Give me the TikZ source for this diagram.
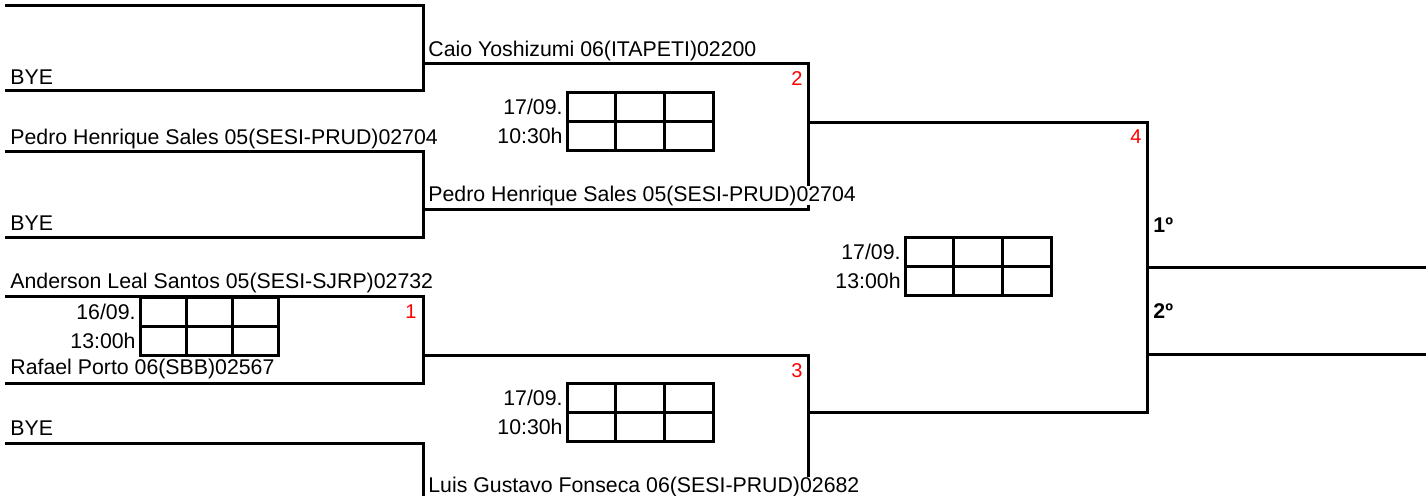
\documentclass[tikz,border=0pt]{standalone}
\usepackage{fontspec}
\setmainfont{Liberation Sans}
\usetikzlibrary{positioning}

\begin{document}
\begin{tikzpicture}[x=0.5pt,y=-0.5pt]
\tikzstyle{player} = [anchor=base west, inner sep=0pt, font=\fontsize{10.65}{12.8}\selectfont]
\tikzstyle{date} = [anchor=east, inner sep=0pt, font=\fontsize{10.65}{12.8}\selectfont]
\tikzstyle{game} = [anchor=base east, inner sep=0pt, text=red, font=\fontsize{10}{12}\selectfont]
\tikzstyle{place} = [anchor=base west, inner sep=0pt, font=\fontsize{10.65}{12.8}\selectfont\bfseries]
\tikzstyle{cell} = [rectangle, draw=black, line width=1.5pt, anchor=north west, outer sep=0pt, inner sep=0pt, minimum height=14.5pt]
\tikzstyle{line} = [line width=1.5pt]

\useasboundingbox (0,0) rectangle (1426,495);
\clip (0,0) rectangle (1426,495);

%coordinates
\coordinate (pA) at (5,5);
\coordinate (qA) at (5,90);
\coordinate (pB) at (5,151);
\coordinate (qB) at (5,237);
\coordinate (p1) at (5,296);
\coordinate (q1) at (5,383);
\coordinate (pD) at (5,443);
\coordinate (mA) at (423,63);
\coordinate (mB) at (423,209);
\coordinate (m1) at (423,355);
\coordinate (mD) at (423,500);
\coordinate (m2) at (808,122);
\coordinate (m3) at (808,412);
\coordinate (m4) at (1147,267);
\coordinate (m4b) at (1147,354);
\coordinate (first) at (1426,267);
\coordinate (second) at (1426,354);

%lines
\draw [line] (pA) -| (mA) |- (qA);
\draw [line] (pB) -| (mB) |- (qB);
\draw [line] (p1) -| (m1) |- (q1);
\draw [line] (pD) -| (mD);
\draw [line] (mA) -| (m2) |- (mB);
\draw [line] (m1) -| (m3) |- (mD);
\draw [line] (m2) -| (m4) |- (m3);
\draw [line] (m4) -- (first);
\draw [line] (m4b) -- (second);

%score boxes
\foreach \b/\bx/\by/\bw in {s1/140/297/46.3, s2/567/92/48.7, s3/567/383/48.7, s4/905/237/48.7}
  \foreach \c in {0,1,2}
    \foreach \r in {0,1}
      \node (\b-\c-\r) [cell, minimum width=\bw*0.5pt] at (\bx+\c*\bw, \by+\r*29) {};

%nodes
\node (nA2) [player] at (10,84) {BYE};
\node (nB1) [player] at (10,144) {Pedro Henrique Sales 05(SESI-PRUD)02704};
\node (nB2) [player] at (10,230) {BYE};
\node (n11) [player] at (10,288) {Anderson Leal Santos 05(SESI-SJRP)02732};
\node (n12) [player] at (10,374) {Rafael Porto 06(SBB)02567};
\node (nD1) [player] at (10,435) {BYE};
\node (wA) [player] at (428,56) {Caio Yoshizumi 06(ITAPETI)02200};
\node (wB) [player, fill=white] at (428,201) {Pedro Henrique Sales 05(SESI-PRUD)02704};
\node (wD) [player, fill=white] at (428,492) {Luis Gustavo Fonseca 06(SESI-PRUD)02682};

\node (g1) [game] at (417,318) {1};
\node (g2) [game] at (803,85) {2};
\node (g3) [game] at (803,377) {3};
\node (g4) [game] at (1142,143) {4};

\node (d1a) [date, left=2pt of s1-0-0] {16/09.};
\node (d1b) [date, left=2pt of s1-0-1] {13:00h};
\node (d2a) [date, left=2pt of s2-0-0] {17/09.};
\node (d2b) [date, left=2pt of s2-0-1] {10:30h};
\node (d3a) [date, left=2pt of s3-0-0] {17/09.};
\node (d3b) [date, left=2pt of s3-0-1] {10:30h};
\node (d4a) [date, left=2pt of s4-0-0] {17/09.};
\node (d4b) [date, left=2pt of s4-0-1] {13:00h};

\node (first1) [place] at (1153,232) {1º};
\node (second2) [place] at (1153,318) {2º};
\end{tikzpicture}
\end{document}
